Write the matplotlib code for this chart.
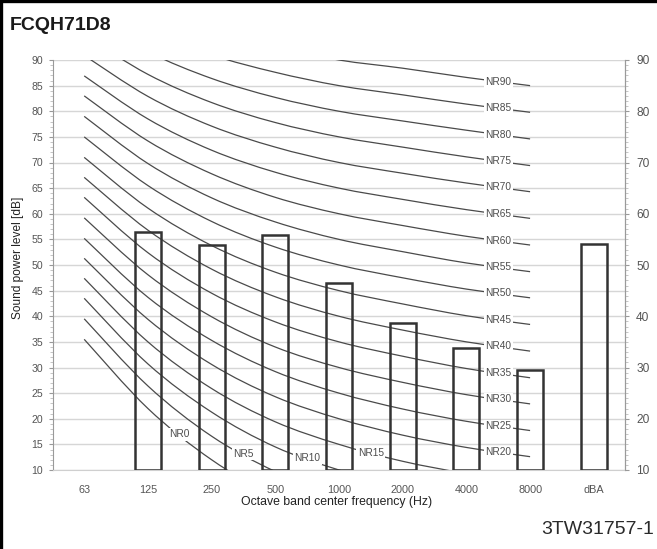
import matplotlib.pyplot as plt
import numpy as np
from matplotlib.path import Path
from matplotlib.patches import PathPatch
from matplotlib.lines import Line2D
from matplotlib.ticker import MultipleLocator

# octave bands on the x axis (dBA is the overall value)
bands = ["63", "125", "250", "500", "1000", "2000", "4000", "8000", "dBA"]

# measured sound power level per band
bar_bands = ["125", "250", "500", "1000", "2000", "4000", "8000", "dBA"]
bar_levels = [56.5, 54.0, 55.8, 46.4, 38.7, 33.8, 29.6, 54.1]

# NR rating curves, levels at 63 ... 8000 Hz
nr_numbers = list(range(0, 95, 5))
nr_levels = [
    [35.5, 22.0, 12.0, 4.8, 0.0, -3.5, -6.1, -8.0],
    [39.5, 26.4, 16.6, 9.7, 5.0, 1.6, -1.0, -2.8],
    [43.5, 30.7, 21.3, 14.5, 10.0, 6.6, 4.2, 2.3],
    [47.4, 35.0, 25.9, 19.4, 15.0, 11.7, 9.3, 7.4],
    [51.3, 39.4, 30.6, 24.3, 20.0, 16.8, 14.4, 12.6],
    [55.2, 43.7, 35.3, 29.2, 25.0, 21.9, 19.5, 17.7],
    [59.2, 48.1, 39.9, 34.0, 30.0, 27.1, 24.7, 22.9],
    [63.2, 52.4, 44.5, 38.9, 35.0, 32.2, 29.8, 28.0],
    [67.1, 56.8, 49.2, 43.8, 40.0, 37.3, 35.0, 33.2],
    [71.0, 61.1, 53.8, 48.6, 45.0, 42.4, 40.1, 38.4],
    [75.0, 65.5, 58.5, 53.5, 50.0, 47.5, 45.3, 43.6],
    [79.0, 69.8, 63.1, 58.4, 55.0, 52.6, 50.4, 48.7],
    [83.0, 74.2, 67.8, 63.2, 60.0, 57.7, 55.6, 53.9],
    [86.9, 78.5, 72.4, 68.1, 65.0, 62.8, 60.8, 59.1],
    [90.9, 82.9, 77.1, 73.0, 70.0, 67.9, 66.0, 64.3],
    [94.8, 87.2, 81.7, 77.8, 75.0, 73.0, 71.1, 69.4],
    [98.8, 91.6, 86.4, 82.7, 80.0, 78.1, 76.3, 74.6],
    [102.7, 95.9, 91.0, 87.6, 85.0, 83.2, 81.4, 79.8],
    [106.6, 100.3, 95.7, 92.5, 90.0, 88.4, 86.6, 85.0],
]

model = "FCQH71D8"
doc_code = "3TW31757-1"

plt.rcParams['font.family'] = ['Liberation Sans', 'DejaVu Sans']


def smooth_path(xs, ys):
    # catmull-rom through the band points, as cubic bezier segments
    pts = np.column_stack([xs, ys]).astype(float)
    n = len(pts)
    verts = [pts[0]]
    codes = [Path.MOVETO]
    for i in range(n - 1):
        p0 = pts[max(i - 1, 0)]
        p1 = pts[i]
        p2 = pts[i + 1]
        p3 = pts[min(i + 2, n - 1)]
        verts += [p1 + (p2 - p0) / 6, p2 - (p3 - p1) / 6, p2]
        codes += [Path.CURVE4] * 3
    return Path(verts, codes)


fig = plt.figure(figsize=(6.57, 5.49), dpi=100)
ax = fig.add_axes([53 / 657, 1 - 470 / 549, 572 / 657, 410 / 549])

ax.set_xlim(-0.49, 8.49)
ax.set_ylim(10, 90)

ax.grid(axis='y', color='#d6d6d6', linewidth=1.0, zorder=0)
ax.set_axisbelow(True)

# NR curves
curve_x = np.arange(len(nr_levels[0]))
for nr, lv in zip(nr_numbers, nr_levels):
    ax.add_patch(PathPatch(smooth_path(curve_x, lv), fill=False,
                           edgecolor='#4a4a4a', linewidth=0.9, zorder=2))
    if nr <= 15:
        k = nr // 5 + 1
    else:
        k = 6
    tx = k + 0.5
    ty = (lv[k] + lv[k + 1]) / 2
    ax.text(tx, ty, "NR%d" % nr, fontsize=7.3, color='#4d4d4d',
            ha='center', va='center', zorder=3,
            bbox=dict(facecolor='white', edgecolor='none', pad=1.0))

# bars (unfilled)
bar_x = [bands.index(b) for b in bar_bands]
ax.bar(bar_x, np.array(bar_levels) - 10, bottom=10, width=0.41,
       facecolor='none', edgecolor='#333333', linewidth=1.8, zorder=4)

ax.set_xticks(range(len(bands)))
ax.set_xticklabels(bands)
ax.tick_params(axis='x', length=0, pad=11, labelsize=7.8, labelcolor='#555555')

ax.yaxis.set_major_locator(MultipleLocator(5))
ax.yaxis.set_minor_locator(MultipleLocator(1))
ax.tick_params(axis='y', which='major', length=3, color='#999999',
               labelsize=7.6, labelcolor='#555555', pad=4)
ax.tick_params(axis='y', which='minor', length=2, color='#bbbbbb')

ax.spines['top'].set_visible(False)
ax.spines['left'].set_color('#9a9a9a')
ax.spines['right'].set_color('#9a9a9a')
ax.spines['bottom'].set_color('#cfcfcf')

ax2 = ax.twinx()
ax2.set_ylim(10, 90)
ax2.yaxis.set_major_locator(MultipleLocator(10))
ax2.yaxis.set_minor_locator(MultipleLocator(1))
ax2.tick_params(axis='y', which='major', length=3, color='#999999',
                labelsize=8.6, labelcolor='#555555', pad=5)
ax2.tick_params(axis='y', which='minor', length=2, color='#bbbbbb')
for s in ['top', 'left', 'bottom']:
    ax2.spines[s].set_visible(False)
ax2.spines['right'].set_color('#9a9a9a')

fig.text(18 / 657, 1 - 258 / 549, "Sound power level [dB]", rotation=90,
         ha='center', va='center', fontsize=8.6, color='#222222')
fig.text(337 / 657, 1 - 502 / 549, "Octave band center frequency (Hz)",
         ha='center', va='center', fontsize=8.8, color='#222222')

fig.text(10 / 657, 1 - 25 / 549, model, ha='left', va='center',
         fontsize=14, fontweight='bold', color='#1a1a1a')
fig.text(654 / 657, 1 - 530 / 549, doc_code, ha='right', va='center',
         fontsize=14, color='#2a2a2a')

# frame edges along top and left
fig.add_artist(Line2D([0, 1], [1 - 1 / 549, 1 - 1 / 549], color='black',
                      linewidth=2.4, transform=fig.transFigure))
fig.add_artist(Line2D([1 / 657, 1 / 657], [0, 1], color='black',
                      linewidth=2.4, transform=fig.transFigure))

fig.savefig("out.png", dpi=100)
